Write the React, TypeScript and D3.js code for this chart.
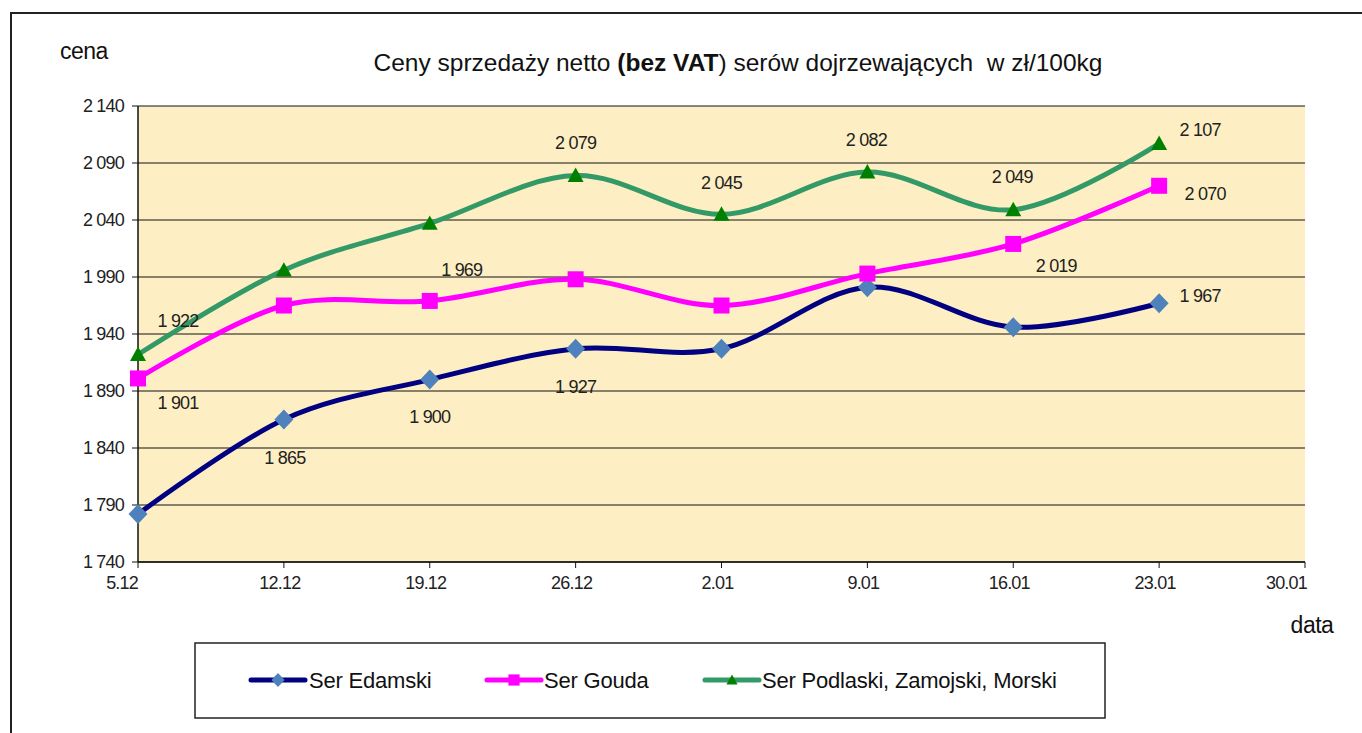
import React from "react";
import * as d3 from "d3";

const categories = ["5.12", "12.12", "19.12", "26.12", "2.01", "9.01", "16.01", "23.01", "30.01"];
const edamski = [1782, 1865, 1900, 1927, 1927, 1981, 1946, 1967];
const gouda = [1901, 1965, 1969, 1988, 1965, 1993, 2019, 2070];
const podlaski = [1922, 1996, 2037, 2079, 2045, 2082, 2049, 2107];
const yTicks = [1740, 1790, 1840, 1890, 1940, 1990, 2040, 2090, 2140];

const W = 1362;
const H = 733;
const font = "'Liberation Sans', Arial, sans-serif";
const plot = { left: 138, right: 1305, top: 106, bottom: 562 };

const x = d3.scalePoint().domain(categories).range([plot.left, plot.right]);
const y = d3.scaleLinear().domain([1740, 2140]).range([plot.bottom, plot.top]);

const fmt = (v: number) => d3.format(",")(v).replace(/,/g, " ");

// which points are labelled, and where the label sits relative to the point
const series = [
  {
    name: "Ser Edamski",
    values: edamski,
    line: "#000080",
    marker: "#4f81bd",
    shape: "diamond",
    labels: [
      { i: 1, dx: 1, dy: 38 },
      { i: 2, dx: 0, dy: 37 },
      { i: 3, dx: 0, dy: 38 },
      { i: 7, dx: 41, dy: -8 },
    ],
  },
  {
    name: "Ser Gouda",
    values: gouda,
    line: "#ff00ff",
    marker: "#ff00ff",
    shape: "square",
    labels: [
      { i: 0, dx: 40, dy: 24 },
      { i: 2, dx: 32, dy: -31 },
      { i: 6, dx: 43, dy: 22 },
      { i: 7, dx: 46, dy: 8 },
    ],
  },
  {
    name: "Ser Podlaski, Zamojski, Morski",
    values: podlaski,
    line: "#339966",
    marker: "#008000",
    shape: "triangle",
    labels: [
      { i: 0, dx: 40, dy: -34 },
      { i: 3, dx: 0, dy: -33 },
      { i: 4, dx: 0, dy: -32 },
      { i: 5, dx: -1, dy: -32 },
      { i: 6, dx: -1, dy: -33 },
      { i: 7, dx: 41, dy: -14 },
    ],
  },
];

const Marker = ({ shape, cx, cy, color, s = 1 }: any) => {
  if (shape === "diamond") {
    const r = 10 * s;
    return <path d={`M${cx},${cy - r}L${cx + r * 0.95},${cy}L${cx},${cy + r}L${cx - r * 0.95},${cy}Z`} fill={color} />;
  }
  if (shape === "square") {
    const r = 8 * s;
    return <rect x={cx - r} y={cy - r} width={2 * r} height={2 * r} fill={color} />;
  }
  const r = 8 * s;
  return <path d={`M${cx},${cy - r}L${cx + r},${cy + r * 0.8}L${cx - r},${cy + r * 0.8}Z`} fill={color} />;
};

export default function App() {
  const line = d3
    .line<number>()
    .x((_, i) => x(categories[i]) as number)
    .y((d) => y(d))
    .curve(d3.curveCatmullRom.alpha(0));

  const legendItems = [
    { s: series[0], x0: 251, tx: 309 },
    { s: series[1], x0: 487, tx: 544 },
    { s: series[2], x0: 705, tx: 762 },
  ];

  return (
    <div style={{ position: "fixed", left: 0, top: 0 }}>
      <svg width={W} height={H} style={{ display: "block", fontFamily: font }}>
        <rect x={0} y={0} width={W} height={H} fill="#fff" />
        {/* outer frame */}
        <path d={`M11,${H}V13H${W}`} fill="none" stroke="#222" strokeWidth={2} />

        <text x={60} y={59} fontSize={23} fill="#111" letterSpacing={-0.5}>cena</text>
        <text x={738} y={71} fontSize={24.5} fill="#111" textAnchor="middle">
          Ceny sprzedaży netto <tspan fontWeight="bold">(bez VAT</tspan>) serów dojrzewających{"\u00a0\u00a0"}w zł/100kg
        </text>
        <text x={1312} y={633} fontSize={23} fill="#111" textAnchor="middle" letterSpacing={-0.5}>data</text>

        {/* plot area */}
        <rect x={plot.left} y={plot.top} width={plot.right - plot.left} height={plot.bottom - plot.top} fill="#fdefc3" />
        {yTicks.map((t) => (
          <g key={t}>
            <line x1={plot.left - 6} x2={plot.right} y1={y(t)} y2={y(t)} stroke="#111" strokeWidth={1} />
            <text x={124} y={y(t)} dy="0.35em" fontSize={18} fill="#222" textAnchor="end" letterSpacing={-0.8}>
              {fmt(t)}
            </text>
          </g>
        ))}
        <line x1={plot.left} x2={plot.left} y1={plot.top} y2={plot.bottom} stroke="#111" strokeWidth={1.5} />
        <line x1={plot.left} x2={plot.right} y1={plot.bottom} y2={plot.bottom} stroke="#111" strokeWidth={1.5} />
        {categories.map((c, i) => (
          <g key={c}>
            <line x1={x(c)} x2={x(c)} y1={plot.bottom} y2={plot.bottom + 6} stroke="#111" strokeWidth={1} />
            <text
              x={(x(c) as number) + (i === 0 ? 0 : i === categories.length - 1 ? 2 : -4)}
              y={plot.bottom + 27}
              fontSize={18}
              fill="#222"
              textAnchor={i === 0 || i === categories.length - 1 ? "end" : "middle"}
              letterSpacing={-0.8}
            >
              {c}
            </text>
          </g>
        ))}

        {/* series */}
        {series.map((s) => (
          <g key={s.name}>
            <path d={line(s.values) || ""} fill="none" stroke={s.line} strokeWidth={5} strokeLinejoin="round" />
            {s.values.map((v, i) => (
              <Marker key={i} shape={s.shape} cx={x(categories[i])} cy={y(v)} color={s.marker} />
            ))}
          </g>
        ))}
        {series.map((s) =>
          s.labels.map((l) => (
            <text
              key={s.name + l.i}
              x={(x(categories[l.i]) as number) + l.dx}
              y={y(s.values[l.i]) + l.dy}
              dy="0.35em"
              fontSize={18}
              fill="#222"
              textAnchor="middle"
              letterSpacing={-0.8}
            >
              {fmt(s.values[l.i])}
            </text>
          ))
        )}

        {/* legend */}
        <rect x={195} y={643} width={910} height={75} fill="#fff" stroke="#222" strokeWidth={1.5} />
        {legendItems.map(({ s, x0, tx }) => (
          <g key={s.name}>
            <line x1={x0} x2={x0 + 54} y1={680} y2={680} stroke={s.line} strokeWidth={5} strokeLinecap="round" />
            <Marker shape={s.shape} cx={x0 + 27} cy={680} color={s.marker} s={0.7} />
            <text x={tx} y={680} dy="0.35em" fontSize={22} fill="#111" letterSpacing={-0.2}>
              {s.name}
            </text>
          </g>
        ))}
      </svg>
    </div>
  );
}
